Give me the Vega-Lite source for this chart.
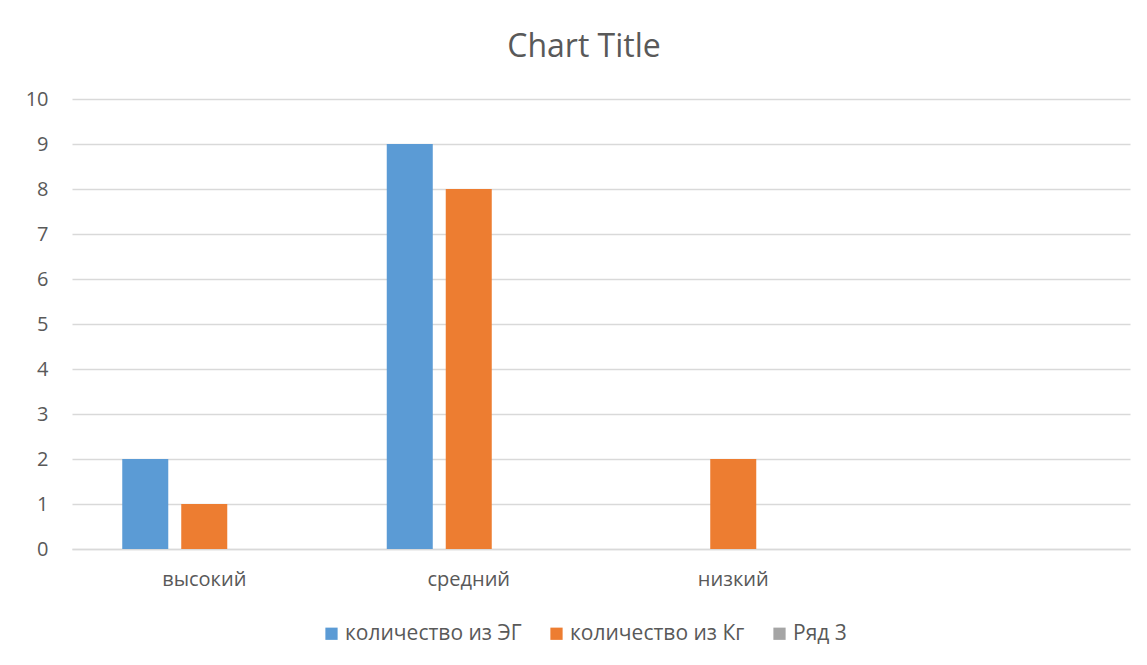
{
  "$schema": "https://vega.github.io/schema/vega-lite/v6.json",
  "width": 1058,
  "height": 450,
  "autosize": {"type": "none"},
  "padding": {"left": 72, "top": 99, "right": 17, "bottom": 116},
  "background": "white",
  "title": {
    "text": "Chart Title",
    "fontSize": 32,
    "font": "Open Sans",
    "fontWeight": "normal",
    "color": "#595959",
    "anchor": "middle",
    "frame": "group",
    "dx": -17,
    "offset": 25
  },
  "data": {
    "values": [
      {"category": "высокий", "series": "количество из ЭГ", "value": 2},
      {"category": "высокий", "series": "количество из Кг", "value": 1},
      {"category": "средний", "series": "количество из ЭГ", "value": 9},
      {"category": "средний", "series": "количество из Кг", "value": 8},
      {"category": "низкий", "series": "количество из Кг", "value": 2}
    ]
  },
  "mark": {"type": "bar"},
  "encoding": {
    "x": {
      "field": "category",
      "type": "nominal",
      "sort": null,
      "scale": {"domain": ["высокий", "средний", "низкий", " "], "paddingInner": 0.38, "paddingOuter": 0.19},
      "axis": {
        "title": null,
        "labelAngle": 0,
        "labelFontSize": 20,
        "labelFont": "Open Sans",
        "labelColor": "#595959",
        "labelPadding": 20,
        "ticks": false,
        "domainColor": "#d9d9d9",
        "domainWidth": 1.5
      }
    },
    "xOffset": {
      "field": "series",
      "type": "nominal",
      "scale": {"domain": ["количество из ЭГ", "количество из Кг", "Ряд 3"], "paddingInner": 0.22, "paddingOuter": 0}
    },
    "y": {
      "field": "value",
      "type": "quantitative",
      "scale": {"domain": [0, 10]},
      "axis": {
        "title": null,
        "values": [0,1,2,3,4,5,6,7,8,9,10],
        "labelOverlap": false,
        "labelFontSize": 20,
        "labelFont": "Open Sans",
        "labelColor": "#595959",
        "labelPadding": 24,
        "ticks": false,
        "domain": false,
        "gridColor": "#d9d9d9",
        "gridWidth": 1.5
      }
    },
    "color": {
      "field": "series",
      "type": "nominal",
      "scale": {
        "domain": ["количество из ЭГ", "количество из Кг", "Ряд 3"],
        "range": ["#5b9bd5", "#ed7d31", "#a5a5a5"]
      },
      "legend": {
        "title": null,
        "orient": "none",
        "direction": "horizontal",
        "legendX": 249,
        "legendY": 524,
        "symbolType": "square",
        "symbolSize": 150,
        "symbolStrokeWidth": 0,
        "labelFontSize": 21,
        "labelFont": "Open Sans",
        "labelColor": "#595959",
        "labelOffset": 3,
        "labelLimit": 400,
        "columnPadding": 24
      }
    }
  },
  "config": {
    "view": {"stroke": null}
  }
}
